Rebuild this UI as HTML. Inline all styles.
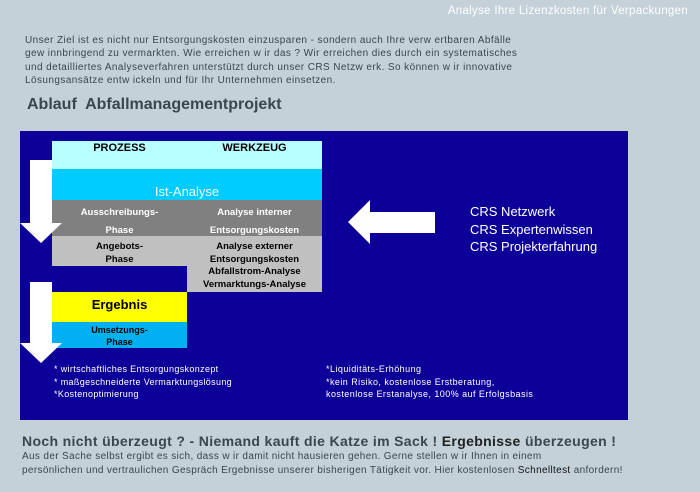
<!DOCTYPE html>
<html><head><meta charset="utf-8"><style>
body{margin:0;width:700px;height:492px;background:#c4d1d9;position:relative;overflow:hidden;font-family:"Liberation Sans",sans-serif}
.a{position:absolute}
.t{color:#3a4650;font-size:10px;line-height:13.3px}
.c{position:absolute;text-align:center;font-weight:bold;font-size:9.5px;color:#fff}
</style></head><body>
<div class="a" style="right:12px;top:5px;color:#fff;font-size:11.5px;letter-spacing:0.3px">Analyse Ihre Lizenzkosten für Verpackungen</div>
<div class="a t" style="left:25px;top:34px;width:560px;letter-spacing:0.42px">Unser Ziel ist es nicht nur Entsorgungskosten einzusparen - sondern auch Ihre verw ertbaren Abfälle<br>gew innbringend zu vermarkten. Wie erreichen w ir das ? Wir erreichen dies durch ein systematisches<br>und detailliertes Analyseverfahren unterstützt durch unser CRS Netzw erk. So können w ir innovative<br>Lösungsansätze entw ickeln und für Ihr Unternehmen einsetzen.</div>
<div class="a" style="left:27px;top:96px;font-size:16px;font-weight:bold;color:#3a4650">Ablauf&nbsp; Abfallmanagementprojekt</div>
<div class="a" style="left:20px;top:131px;width:608px;height:289px;background:#0c0099"></div>
<div class="a" style="left:52px;top:141px;width:270px;height:28px;background:#b8ffff"></div>
<div class="c" style="left:52px;top:142px;width:135px;color:#000;font-size:11px">PROZESS</div>
<div class="c" style="left:187px;top:142px;width:135px;color:#000;font-size:11px">WERKZEUG</div>
<div class="a" style="left:52px;top:169px;width:270px;height:31px;background:#00ccff"></div>
<div class="a" style="left:52px;top:184px;width:270px;text-align:center;color:#e8ffff;font-size:13px">Ist-Analyse</div>
<div class="a" style="left:52px;top:200px;width:270px;height:36px;background:#808080"></div>
<div class="c" style="left:52px;top:204px;width:135px;line-height:17.5px">Ausschreibungs-<br>Phase</div>
<div class="c" style="left:187px;top:204px;width:135px;line-height:17.5px">Analyse interner<br>Entsorgungskosten</div>
<div class="a" style="left:52px;top:236px;width:270px;height:30px;background:#c0c0c0"></div>
<div class="a" style="left:187px;top:266px;width:135px;height:26px;background:#c0c0c0"></div>
<div class="c" style="left:52px;top:240px;width:135px;line-height:13px;color:#000">Angebots-<br>Phase</div>
<div class="c" style="left:187px;top:241px;width:135px;line-height:12.7px;color:#000">Analyse externer<br>Entsorgungskosten<br>Abfallstrom-Analyse<br>Vermarktungs-Analyse</div>
<div class="a" style="left:52px;top:292px;width:135px;height:30px;background:#ffff00"></div>
<div class="c" style="left:52px;top:297px;width:135px;color:#000;font-size:13px">Ergebnis</div>
<div class="a" style="left:52px;top:322px;width:135px;height:26px;background:#00b0f0"></div>
<div class="c" style="left:52px;top:324px;width:135px;line-height:12px;color:#000;font-size:9px">Umsetzungs-<br>Phase</div>
<svg class="a" style="left:0;top:0" width="700" height="492">
<polygon points="30,160 52,160 52,223 62,223 41,243 20,223 30,223" fill="#fff"/>
<polygon points="30,282 52,282 52,343 62,343 41,363 20,343 30,343" fill="#fff"/>
<polygon points="435,212 370,212 370,200 348,222 370,244 370,233 435,233" fill="#fff"/>
</svg>
<div class="a" style="left:470px;top:203px;color:#fff;font-size:13px;line-height:17.5px">CRS Netzwerk<br>CRS Expertenwissen<br>CRS Projekterfahrung</div>
<div class="a" style="left:54px;top:363px;color:#fff;font-size:9px;letter-spacing:0.35px;line-height:12.5px">* wirtschaftliches Entsorgungskonzept<br>* maßgeschneiderte Vermarktungslösung<br>*Kostenoptimierung</div>
<div class="a" style="left:326px;top:363px;color:#fff;font-size:9px;letter-spacing:0.45px;line-height:12.5px">*Liquiditäts-Erhöhung<br>*kein Risiko, kostenlose Erstberatung,<br>kostenlose Erstanalyse, 100% auf Erfolgsbasis</div>
<div class="a" style="left:22px;top:433px;font-size:14px;font-weight:bold;color:#3a4650;letter-spacing:0.35px;white-space:nowrap">Noch nicht überzeugt ? - Niemand kauft die Katze im Sack ! <span style="color:#222">Ergebnisse</span> überzeugen !</div>
<div class="a t" style="left:22px;top:450px;font-size:10px;line-height:14px;letter-spacing:0.35px;white-space:nowrap">Aus der Sache selbst ergibt es sich, dass w ir damit nicht hausieren gehen. Gerne stellen w ir Ihnen in einem<br>persönlichen und vertraulichen Gespräch Ergebnisse unserer bisherigen Tätigkeit vor. Hier kostenlosen <span style="color:#111">Schnelltest</span> anfordern!</div>
</body></html>
